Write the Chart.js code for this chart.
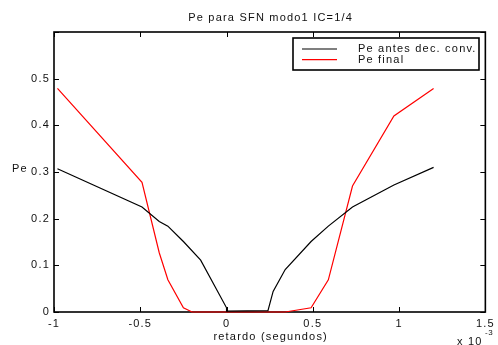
<!DOCTYPE html>
<html>
<head>
<meta charset="utf-8">
<script src="https://cdn.jsdelivr.net/npm/chart.js@4/dist/chart.umd.min.js"></script>
<style>
  html, body { margin: 0; padding: 0; background: #fff; }
  #wrap { width: 498px; height: 345px; }
</style>
</head>
<body>
<div id="wrap"><canvas id="c" width="498" height="345"></canvas></div>
<script>
// data (x in units of 1e-3 s)
const titleText = 'Pe para SFN modo1 IC=1/4';
const xLabel = 'retardo (segundos)';
const yLabel = 'Pe';
const xTicks = [-1, -0.5, 0, 0.5, 1, 1.5];
const yTicks = [0, 0.1, 0.2, 0.3, 0.4, 0.5, 0.6];

const blackLabel = 'Pe antes dec. conv.';
const blackX = [-0.98, -0.49, -0.39, -0.34, -0.25, -0.15, 0, 0, 0.24, 0.27, 0.34, 0.49, 0.59, 0.73, 0.97, 1.2];
const blackY = [0.307, 0.225, 0.194, 0.184, 0.151, 0.111, 0.009, 0.002, 0.003, 0.044, 0.091, 0.151, 0.184, 0.225, 0.272, 0.31];

const redLabel = 'Pe final';
const redX = [-0.98, -0.49, -0.39, -0.34, -0.25, -0.2, 0.34, 0.49, 0.59, 0.73, 0.97, 1.2];
const redY = [0.479, 0.278, 0.127, 0.069, 0.009, 0, 0, 0.009, 0.069, 0.27, 0.42, 0.479];

const FONT = '11px "Liberation Sans", Arial, sans-serif';
const pts = (xs, ys) => xs.map((x, i) => ({ x, y: ys[i] }));
const fmtTick = (v) => String(Number(v.toFixed(2)));

const matlabAxes = {
  id: 'matlabAxes',
  beforeDraw(chart) {
    chart.ctx.letterSpacing = '1.2px';
  },
  beforeDatasetsDraw(chart) {
    const { ctx, chartArea: a, scales } = chart;
    ctx.save();
    ctx.strokeStyle = '#000';
    ctx.lineWidth = 1;
    // inward ticks on all four sides
    xTicks.forEach(v => {
      const px = Math.round(scales.x.getPixelForValue(v)) + 0.5;
      ctx.beginPath();
      ctx.moveTo(px, a.bottom); ctx.lineTo(px, a.bottom - 5);
      ctx.moveTo(px, a.top); ctx.lineTo(px, a.top + 5);
      ctx.stroke();
    });
    yTicks.forEach(v => {
      const py = Math.round(scales.y.getPixelForValue(v)) + 0.5;
      ctx.beginPath();
      ctx.moveTo(a.left, py); ctx.lineTo(a.left + 5, py);
      ctx.moveTo(a.right, py); ctx.lineTo(a.right - 5, py);
      ctx.stroke();
    });
    ctx.lineWidth = 1.6;
    ctx.strokeRect(a.left, a.top, a.right - a.left, a.bottom - a.top);
    ctx.restore();
  },
  afterDraw(chart) {
    const { ctx, chartArea: a } = chart;
    ctx.save();
    ctx.letterSpacing = '1.2px';
    ctx.fillStyle = '#111';
    ctx.font = FONT;
    ctx.textBaseline = 'middle';
    // title
    ctx.textAlign = 'center';
    ctx.fillText(titleText, (a.left + a.right) / 2 + 1, 18);
    // x label
    ctx.fillText(xLabel, (a.left + a.right) / 2 + 1, 337);
    // y label (horizontal, like MATLAB)
    ctx.textAlign = 'left';
    ctx.fillText(yLabel, 12, 169);
    // exponent
    ctx.fillText('x 10', 457, 342);
    ctx.font = '8px "Liberation Sans", Arial, sans-serif';
    ctx.letterSpacing = '0.5px';
    ctx.fillText('-3', 485, 333);

    // legend box
    const lx = 293, ly = 38, lw = 186, lh = 32;
    ctx.fillStyle = '#fff';
    ctx.fillRect(lx, ly, lw, lh);
    ctx.strokeStyle = '#000';
    ctx.lineWidth = 1.6;
    ctx.strokeRect(lx, ly, lw, lh);
    ctx.font = FONT;
    ctx.letterSpacing = '1.2px';
    chart.data.datasets.forEach((ds, i) => {
      const yy = 49 + i * 10.6;
      ctx.strokeStyle = ds.borderColor;
      ctx.lineWidth = 1.2;
      ctx.beginPath();
      ctx.moveTo(302, yy); ctx.lineTo(337, yy);
      ctx.stroke();
      ctx.fillStyle = '#111';
      ctx.fillText(ds.label, 358, yy);
    });
    ctx.restore();
  }
};

new Chart(document.getElementById('c'), {
  type: 'scatter',
  data: {
    datasets: [
      { label: blackLabel, data: pts(blackX, blackY), borderColor: '#000', borderWidth: 1.2,
        showLine: true, pointRadius: 0, clip: 4 },
      { label: redLabel, data: pts(redX, redY), borderColor: '#ff0000', borderWidth: 1.2,
        showLine: true, pointRadius: 0, clip: 4 }
    ]
  },
  options: {
    responsive: false,
    animation: false,
    devicePixelRatio: 1,
    layout: { padding: { top: 32, right: 7, left: 0, bottom: 0 } },
    plugins: { legend: { display: false }, title: { display: false }, tooltip: { enabled: false } },
    scales: {
      x: {
        type: 'linear', min: -1, max: 1.5,
        afterFit: (s) => { s.height = 33; },
        afterBuildTicks: (s) => { s.ticks = xTicks.map(v => ({ value: v })); },
        grid: { display: false, drawTicks: false },
        border: { display: false },
        ticks: { padding: 5, color: '#111', font: { family: '"Liberation Sans", Arial, sans-serif', size: 11 },
                 maxRotation: 0, callback: (v) => fmtTick(v) }
      },
      y: {
        type: 'linear', min: 0, max: 0.6,
        afterFit: (s) => { s.width = 54; },
        afterBuildTicks: (s) => { s.ticks = yTicks.map(v => ({ value: v })); },
        grid: { display: false, drawTicks: false },
        border: { display: false },
        ticks: { padding: 4, color: '#111', font: { family: '"Liberation Sans", Arial, sans-serif', size: 11 },
                 callback: (v) => v > 0.55 ? '' : fmtTick(v) }
      }
    }
  },
  plugins: [matlabAxes]
});
</script>
</body>
</html>
